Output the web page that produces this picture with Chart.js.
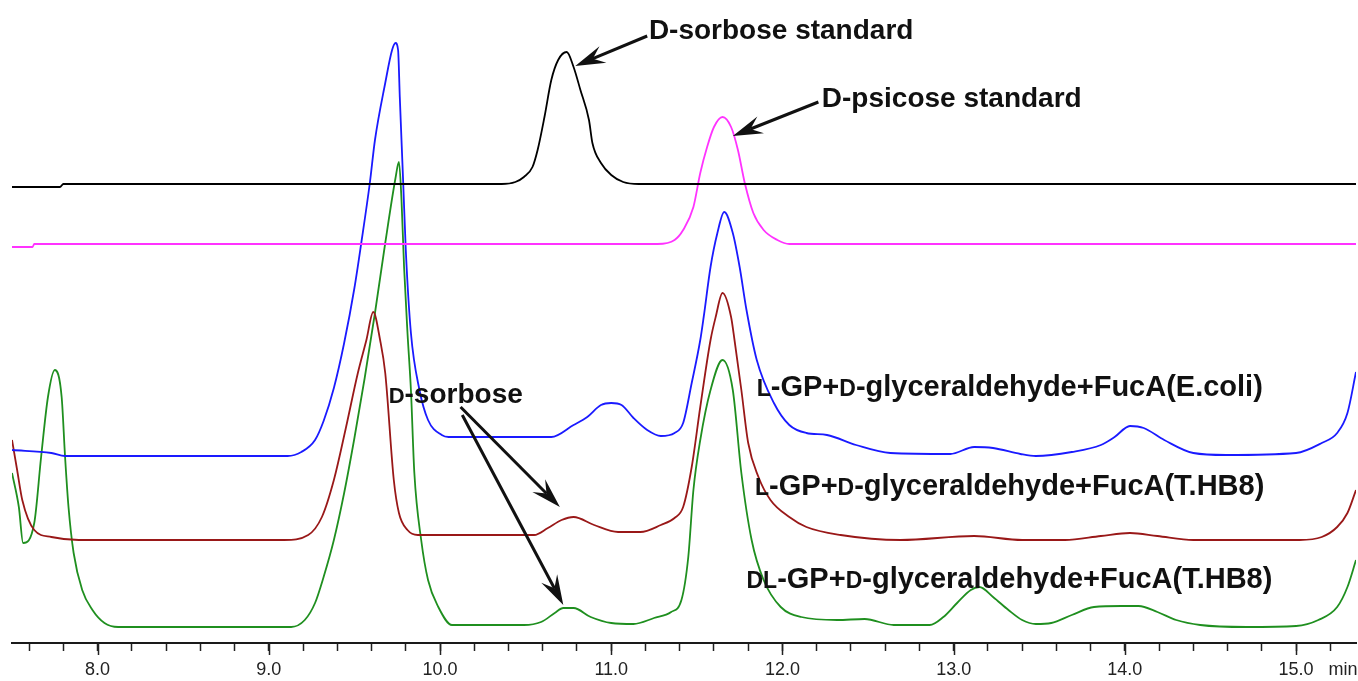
<!DOCTYPE html>
<html>
<head>
<meta charset="utf-8">
<script src="https://cdn.jsdelivr.net/npm/chart.js@4"></script>
<style>
  html, body { margin: 0; padding: 0; background: #fff; }
  #wrap { width: 1358px; height: 681px; }
</style>
</head>
<body>
<div id="wrap"><canvas id="chrom"></canvas></div>
<script>
// retention time (min) and detector signal (arbitrary units, traces offset)
const blackTime   = [7.50, 7.78, 7.80, 10.36, 10.44, 10.49, 10.54, 10.57, 10.61, 10.65, 10.69, 10.74, 10.78, 10.82, 10.87, 10.89, 10.94, 11.00, 11.07, 11.16, 15.35];
const blackSignal = [456, 456, 459, 459, 461, 466, 476, 493, 526, 563, 583, 591, 576, 553, 523, 500, 480, 468, 461, 459, 459];

const magentaTime   = [7.50, 7.62, 7.63, 11.27, 11.37, 11.42, 11.48, 11.52, 11.56, 11.60, 11.65, 11.70, 11.74, 11.78, 11.83, 11.89, 11.97, 12.04, 15.35];
const magentaSignal = [396, 396, 399, 399, 403, 413, 436, 470, 496, 516, 526, 516, 493, 460, 430, 413, 403, 399, 399];

const blueTime   = [7.50, 7.73, 7.81, 9.11, 9.19, 9.27, 9.32, 9.38, 9.44, 9.50, 9.54, 9.59, 9.62, 9.68, 9.72, 9.74, 9.755, 9.765, 9.785, 9.80, 9.83, 9.88, 9.93, 10.01, 10.05, 10.65, 10.78, 10.86, 10.94, 11.00, 11.06, 11.13, 11.21, 11.29, 11.37, 11.42, 11.47, 11.52, 11.54, 11.58, 11.62, 11.66, 11.71, 11.75, 11.79, 11.85, 11.95, 12.04, 12.14, 12.26, 12.43, 12.63, 12.98, 13.12, 13.23, 13.39, 13.48, 13.69, 13.86, 13.94, 14.03, 14.11, 14.23, 14.40, 14.59, 15.00, 15.15, 15.24, 15.30, 15.35];
const blueSignal = [193, 190, 187, 187, 191, 203, 222, 255, 300, 355, 400, 460, 503, 560, 593, 600, 593, 546, 460, 393, 310, 253, 223, 208, 206, 206, 218, 226, 238, 240, 238, 225, 213, 207, 210, 220, 260, 303, 326, 376, 410, 431, 410, 376, 333, 283, 240, 218, 210, 208, 198, 190, 189, 196, 195, 189, 187, 191, 198, 206, 217, 215, 203, 190, 188, 190, 200, 210, 230, 271];

const redTime   = [7.50, 7.53, 7.56, 7.63, 7.73, 7.89, 9.09, 9.23, 9.31, 9.38, 9.45, 9.52, 9.57, 9.61, 9.65, 9.68, 9.73, 9.76, 9.81, 9.87, 10.55, 10.63, 10.71, 10.78, 10.90, 11.04, 11.17, 11.29, 11.37, 11.42, 11.47, 11.52, 11.58, 11.61, 11.65, 11.70, 11.72, 11.76, 11.80, 11.86, 11.93, 12.04, 12.14, 12.34, 12.69, 13.12, 13.40, 13.65, 13.86, 14.03, 14.19, 14.40, 15.02, 15.15, 15.24, 15.30, 15.35];
const redSignal = [203, 173, 143, 113, 106, 103, 103, 108, 126, 163, 215, 270, 303, 331, 303, 270, 163, 130, 113, 108, 108, 115, 123, 126, 118, 111, 111, 118, 125, 136, 176, 236, 303, 326, 350, 326, 303, 253, 200, 166, 143, 126, 116, 108, 103, 107, 103, 103, 107, 110, 107, 103, 103, 106, 116, 130, 153];

const greenTime   = [7.50, 7.54, 7.565, 7.63, 7.67, 7.71, 7.75, 7.79, 7.81, 7.83, 7.86, 7.91, 7.97, 8.04, 8.12, 9.13, 9.21, 9.27, 9.32, 9.38, 9.44, 9.50, 9.56, 9.62, 9.68, 9.74, 9.76, 9.775, 9.79, 9.81, 9.83, 9.85, 9.89, 9.93, 9.99, 10.07, 10.49, 10.59, 10.67, 10.72, 10.78, 10.88, 11.00, 11.13, 11.25, 11.35, 11.41, 11.45, 11.48, 11.52, 11.58, 11.65, 11.71, 11.76, 11.82, 11.89, 11.99, 12.11, 12.32, 12.48, 12.65, 12.86, 12.94, 13.02, 13.10, 13.15, 13.23, 13.32, 13.40, 13.48, 13.57, 13.69, 13.82, 13.98, 14.08, 14.19, 14.30, 14.44, 14.71, 15.00, 15.13, 15.24, 15.30, 15.35];
const greenSignal = [170, 136, 100, 120, 186, 246, 273, 246, 186, 136, 90, 53, 33, 20, 16, 16, 23, 40, 66, 103, 150, 205, 265, 330, 400, 465, 481, 443, 376, 310, 253, 170, 103, 63, 36, 18, 18, 21, 30, 35, 35, 26, 20, 19, 25, 31, 43, 86, 153, 203, 253, 283, 253, 170, 103, 63, 36, 26, 23, 24, 18, 18, 26, 40, 53, 56, 46, 33, 23, 19, 20, 28, 36, 37, 37, 31, 23, 18, 16, 17, 23, 36, 56, 83];

const majorTicks = [8, 9, 10, 11, 12, 13, 14, 15];

// annotation text: [string, smallCaps]
const notes = [
  { t: 11.22, s: 604, size: 28, parts: [['D', 0], ['-sorbose standard', 0]] },
  { t: 12.23, s: 536, size: 28, parts: [['D', 0], ['-psicose standard', 0]] },
  { t: 9.70,  s: 240, size: 28, parts: [['D', 1], ['-sorbose', 0]] },
  { t: 11.85, s: 247, size: 29, parts: [['L', 1], ['-GP+', 0], ['D', 1], ['-glyceraldehyde+FucA(E.coli)', 0]] },
  { t: 11.84, s: 148, size: 29, parts: [['L', 1], ['-GP+', 0], ['D', 1], ['-glyceraldehyde+FucA(T.HB8)', 0]] },
  { t: 11.79, s: 55,  size: 29, parts: [['DL', 1], ['-GP+', 0], ['D', 1], ['-glyceraldehyde+FucA(T.HB8)', 0]] }
];
const arrows = [
  { from: [11.21, 607], to: [10.79, 577] },
  { from: [12.21, 541], to: [11.71, 507] },
  { from: [10.12, 236], to: [10.70, 136] },
  { from: [10.13, 228], to: [10.72, 38] }
];

const traces = [
  { label: 'D-sorbose standard', t: blackTime, y: blackSignal, color: '#000000' },
  { label: 'D-psicose standard', t: magentaTime, y: magentaSignal, color: '#ff33ff' },
  { label: 'L-GP+D-glyceraldehyde+FucA(E.coli)', t: blueTime, y: blueSignal, color: '#1a1aff' },
  { label: 'L-GP+D-glyceraldehyde+FucA(T.HB8)', t: redTime, y: redSignal, color: '#991818' },
  { label: 'DL-GP+D-glyceraldehyde+FucA(T.HB8)', t: greenTime, y: greenSignal, color: '#1f8f1f' }
];

const FONT = '"Liberation Sans", Arial, sans-serif';

function drawArrow(ctx, x1, y1, x2, y2) {
  const a = Math.atan2(y2 - y1, x2 - x1);
  const c = Math.cos(a), s = Math.sin(a);
  const len = 30, half = 9, notch = 19;
  ctx.lineWidth = 3;
  ctx.beginPath();
  ctx.moveTo(x1, y1);
  ctx.lineTo(x2 - c * notch, y2 - s * notch);
  ctx.stroke();
  ctx.beginPath();
  ctx.moveTo(x2, y2);
  ctx.lineTo(x2 - len * c + half * s, y2 - len * s - half * c);
  ctx.lineTo(x2 - notch * c, y2 - notch * s);
  ctx.lineTo(x2 - len * c - half * s, y2 - len * s + half * c);
  ctx.closePath();
  ctx.fill();
}

const notesPlugin = {
  id: 'notes',
  afterDraw(chart) {
    const { ctx, scales: { x, y }, chartArea } = chart;
    ctx.save();
    ctx.fillStyle = '#111';
    ctx.strokeStyle = '#111';
    ctx.textBaseline = 'alphabetic';
    notes.forEach(n => {
      let px = x.getPixelForValue(n.t);
      const py = y.getPixelForValue(n.s);
      n.parts.forEach(([str, sc]) => {
        ctx.font = 'bold ' + (sc ? Math.round(n.size * 0.8) : n.size) + 'px ' + FONT;
        ctx.fillText(str, px, py);
        px += ctx.measureText(str).width;
      });
    });
    arrows.forEach(a => {
      drawArrow(ctx,
        x.getPixelForValue(a.from[0]), y.getPixelForValue(a.from[1]),
        x.getPixelForValue(a.to[0]), y.getPixelForValue(a.to[1]));
    });
    // longer marks at whole minutes
    ctx.strokeStyle = '#222';
    ctx.lineWidth = 1.5;
    majorTicks.forEach(v => {
      const px = Math.round(x.getPixelForValue(v)) + 0.5;
      ctx.beginPath();
      ctx.moveTo(px, chartArea.bottom);
      ctx.lineTo(px, chartArea.bottom + 12);
      ctx.stroke();
    });
    // unit
    ctx.fillStyle = '#222';
    ctx.font = '18px ' + FONT;
    ctx.textBaseline = 'middle';
    ctx.fillText('min', x.getPixelForValue(15.19), chartArea.bottom + 27);
    ctx.restore();
  }
};

new Chart(document.getElementById('chrom'), {
  type: 'line',
  data: {
    datasets: traces.map(tr => ({
      label: tr.label,
      data: tr.t.map((t, i) => ({ x: t, y: tr.y[i] })),
      borderColor: tr.color,
      borderWidth: 1.8,
      pointRadius: 0,
      fill: false,
      cubicInterpolationMode: 'monotone'
    }))
  },
  options: {
    responsive: true,
    maintainAspectRatio: false,
    animation: false,
    layout: { padding: { left: 12, right: 2, top: 0, bottom: 0 } },
    plugins: { legend: { display: false }, tooltip: { enabled: false } },
    scales: {
      x: {
        type: 'linear',
        min: 7.5,
        max: 15.35,
        afterFit: s => { s.height = 38; },
        border: { display: true, color: '#1a1a1a', width: 2 },
        grid: { drawOnChartArea: false, drawTicks: true, tickLength: 8, tickColor: '#222', tickWidth: 1.5 },
        ticks: {
          stepSize: 0.2,
          includeBounds: false,
          autoSkip: false,
          maxRotation: 0,
          padding: 8,
          color: '#222',
          font: { family: FONT, size: 18 },
          callback: v => Math.abs(v - Math.round(v)) < 1e-6 ? v.toFixed(1) : ''
        }
      },
      y: { display: false, min: 0, max: 643 }
    }
  },
  plugins: [notesPlugin]
});
</script>
</body>
</html>
